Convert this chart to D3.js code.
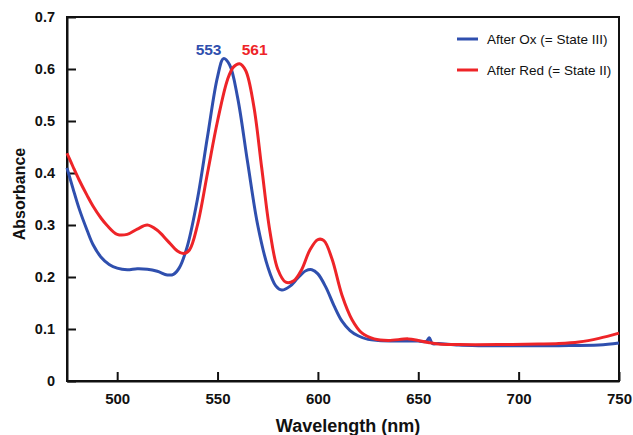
<!DOCTYPE html>
<html>
<head>
<meta charset="utf-8">
<script src="https://cdn.jsdelivr.net/npm/d3@7"></script>
<style>
  body { margin: 0; background: #fff; }
  text { font-family: "Liberation Sans", Arial, sans-serif; }
</style>
</head>
<body>
<svg></svg>
<script>
const width = 633;
const height = 435;
const margin = { top: 17, right: 14, bottom: 54, left: 67 };

// Espectros
const oxWave = [475, 478, 481, 485, 488, 492, 496, 500, 505, 510, 515, 520, 525, 528, 531, 535, 540, 545, 550, 553, 556, 560, 565, 570, 575, 579, 582, 586, 590, 594, 597, 600, 604, 608, 612, 616, 620, 625, 630, 640, 650, 654, 655.5, 657, 660, 670, 680, 700, 720, 740, 750];
const oxAbs  = [0.41, 0.37, 0.332, 0.29, 0.262, 0.238, 0.224, 0.217, 0.214, 0.216, 0.215, 0.211, 0.204, 0.205, 0.218, 0.26, 0.35, 0.47, 0.585, 0.62, 0.608, 0.545, 0.42, 0.30, 0.22, 0.183, 0.175, 0.182, 0.198, 0.212, 0.214, 0.206, 0.18, 0.145, 0.115, 0.097, 0.087, 0.08, 0.078, 0.077, 0.077, 0.076, 0.083, 0.072, 0.072, 0.069, 0.068, 0.068, 0.068, 0.069, 0.073];

const redWave = [475, 478, 481, 485, 488, 492, 495, 500, 505, 510, 515, 520, 525, 530, 533, 536, 540, 545, 550, 555, 558, 561, 564, 568, 572, 576, 580, 584, 588, 592, 596, 600, 603, 607, 612, 617, 622, 628, 635, 645, 650, 655, 660, 670, 690, 710, 720, 730, 740, 750];
const redAbs  = [0.438, 0.412, 0.387, 0.357, 0.336, 0.313, 0.299, 0.282, 0.282, 0.292, 0.30, 0.29, 0.27, 0.25, 0.245, 0.252, 0.30, 0.40, 0.50, 0.58, 0.604, 0.61, 0.597, 0.53, 0.41, 0.29, 0.215, 0.19, 0.193, 0.215, 0.252, 0.272, 0.27, 0.235, 0.165, 0.118, 0.092, 0.081, 0.078, 0.081, 0.078, 0.074, 0.071, 0.07, 0.07, 0.071, 0.072, 0.075, 0.082, 0.092];

const xTicks = [500, 550, 600, 650, 700, 750];
const yTicks = [0, 0.1, 0.2, 0.3, 0.4, 0.5, 0.6, 0.7];

const seriesNames = ["After Ox (= State III)", "After Red (= State II)"];
const seriesColors = ["#2f4fae", "#ee2428"];
const peakWave = [553, 561];
const peakAbs = [0.62, 0.61];

const svg = d3.select("svg")
  .attr("width", width)
  .attr("height", height);

const x = d3.scaleLinear()
  .domain([475, 750])
  .range([margin.left, width - margin.right]);

const y = d3.scaleLinear()
  .domain([0, 0.7])
  .range([height - margin.bottom, margin.top]);

const series = [
  oxWave.map((w, i) => ({ w, a: oxAbs[i] })),
  redWave.map((w, i) => ({ w, a: redAbs[i] }))
];

const line = d3.line()
  .x(d => x(d.w))
  .y(d => y(d.a))
  .curve(d3.curveCatmullRom.alpha(0.5));

// Marco
svg.append("rect")
  .attr("x", margin.left)
  .attr("y", margin.top)
  .attr("width", width - margin.right - margin.left)
  .attr("height", height - margin.bottom - margin.top)
  .attr("fill", "none")
  .attr("stroke", "#111")
  .attr("stroke-width", 2);

// Ejes
const xAxis = svg.append("g")
  .attr("transform", `translate(0,${height - margin.bottom})`)
  .call(d3.axisBottom(x).tickValues(xTicks).tickSizeInner(-9).tickSizeOuter(0).tickPadding(12));

const yAxis = svg.append("g")
  .attr("transform", `translate(${margin.left},0)`)
  .call(d3.axisLeft(y).tickValues(yTicks).tickSizeInner(-9).tickSizeOuter(0).tickPadding(12)
    .tickFormat(d => d === 0 ? "0" : d3.format(".1f")(d)));

[xAxis, yAxis].forEach(g => {
  g.select(".domain").attr("stroke", "#111").attr("stroke-width", 2);
  g.selectAll(".tick line").attr("stroke", "#111").attr("stroke-width", 2);
  g.selectAll(".tick text")
    .attr("fill", "#111")
    .style("font-weight", "bold");
});
xAxis.selectAll(".tick text").style("font-size", "15px");
yAxis.selectAll(".tick text").style("font-size", "14.5px");

// Curvas
svg.selectAll(".spectrum")
  .data(series)
  .join("path")
  .attr("class", "spectrum")
  .attr("d", line)
  .attr("fill", "none")
  .attr("stroke", (d, i) => seriesColors[i])
  .attr("stroke-width", 3)
  .attr("stroke-linejoin", "round");

// Etiquetas de picos
svg.selectAll(".peak")
  .data(peakWave)
  .join("text")
  .attr("class", "peak")
  .attr("x", (d, i) => x(d) + (i === 0 ? -15 : 15))
  .attr("y", y(d3.max(peakAbs)) - 4)
  .attr("text-anchor", "middle")
  .attr("fill", (d, i) => seriesColors[i])
  .style("font-size", "15.5px")
  .style("font-weight", "bold")
  .text(d => d);

// Leyenda
const legend = svg.append("g")
  .attr("transform", "translate(457,39)");

seriesNames.forEach((name, i) => {
  const row = legend.append("g").attr("transform", `translate(0,${i * 31})`);
  row.append("line")
    .attr("x1", 0).attr("x2", 21)
    .attr("stroke", seriesColors[i])
    .attr("stroke-width", 3);
  row.append("text")
    .attr("x", 30)
    .attr("dy", "0.35em")
    .attr("fill", "#111")
    .style("font-size", "13.5px")
    .text(name);
});

// Titulos de ejes
svg.append("text")
  .attr("x", 348)
  .attr("y", 432)
  .attr("text-anchor", "middle")
  .attr("fill", "#111")
  .style("font-size", "18px")
  .style("font-weight", "bold")
  .text("Wavelength (nm)");

svg.append("text")
  .attr("transform", "translate(25,194) rotate(-90)")
  .attr("text-anchor", "middle")
  .attr("fill", "#111")
  .style("font-size", "16px")
  .style("font-weight", "bold")
  .text("Absorbance");
</script>
</body>
</html>
